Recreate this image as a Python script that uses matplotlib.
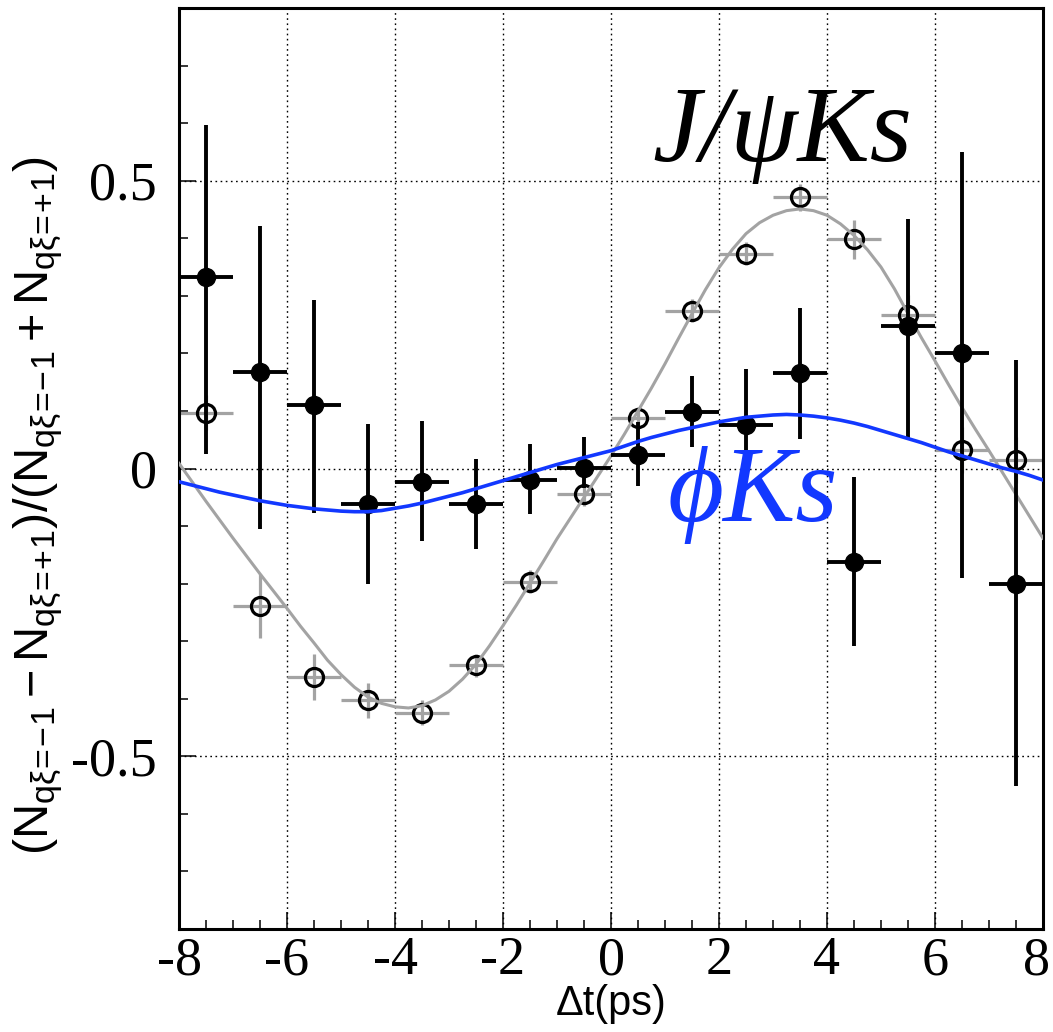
import numpy as np
import matplotlib
matplotlib.use("Agg")
import matplotlib.pyplot as plt
from matplotlib.ticker import MultipleLocator

plt.rcParams['font.family'] = ['Liberation Serif', 'DejaVu Serif']
plt.rcParams['axes.unicode_minus'] = False
plt.rcParams['mathtext.fontset'] = 'custom'
plt.rcParams['mathtext.rm'] = 'Liberation Sans'
plt.rcParams['mathtext.it'] = 'Liberation Sans'
plt.rcParams['mathtext.bf'] = 'Liberation Sans:bold'

# bin centres (dt in ps)
bins = [-7.5, -6.5, -5.5, -4.5, -3.5, -2.5, -1.5, -0.5,
        0.5, 1.5, 2.5, 3.5, 4.5, 5.5, 6.5, 7.5]

# phi Ks (filled points): value, lower end, upper end of error bar
phi_val = [0.333, 0.167, 0.111, -0.061, -0.023, -0.061, -0.020, 0.001,
           0.024, 0.099, 0.076, 0.166, -0.163, 0.248, 0.201, -0.201]
phi_lo = [0.026, -0.105, -0.077, -0.200, -0.126, -0.139, -0.079, -0.033,
          -0.030, 0.037, -0.020, 0.051, -0.308, 0.053, -0.191, -0.551]
phi_hi = [0.597, 0.422, 0.293, 0.078, 0.082, 0.016, 0.042, 0.054,
          0.080, 0.161, 0.173, 0.279, -0.014, 0.433, 0.550, 0.189]

# J/psi Ks (open points)
psi_val = [0.097, -0.239, -0.363, -0.403, -0.424, -0.342, -0.197, -0.045,
           0.087, 0.274, 0.373, 0.471, 0.398, 0.266, 0.033, 0.015]
psi_err = [0.03, 0.055, 0.04, 0.031, 0.022, 0.02, 0.02, 0.02,
           0.02, 0.02, 0.02, 0.024, 0.034, 0.035, 0.04, 0.04]

# fitted curves (every 0.25 ps)
curve_t = [-8.0, -7.75, -7.5, -7.25, -7.0, -6.75, -6.5, -6.25, -6.0, -5.75,
           -5.5, -5.25, -5.0, -4.75, -4.5, -4.25, -4.0, -3.75, -3.5, -3.25,
           -3.0, -2.75, -2.5, -2.25, -2.0, -1.75, -1.5, -1.25, -1.0, -0.75,
           -0.5, -0.25, 0.0, 0.25, 0.5, 0.75, 1.0, 1.25, 1.5, 1.75, 2.0,
           2.25, 2.5, 2.75, 3.0, 3.25, 3.5, 3.75, 4.0, 4.25, 4.5, 4.75, 5.0,
           5.25, 5.5, 5.75, 6.0, 6.25, 6.5, 6.75, 7.0, 7.25, 7.5, 7.75, 8.0]
psi_fit = [0.009, -0.024, -0.057, -0.089, -0.121, -0.152, -0.183, -0.213,
           -0.243, -0.274, -0.303, -0.333, -0.358, -0.380, -0.397, -0.408,
           -0.414, -0.416, -0.412, -0.402, -0.387, -0.366, -0.340, -0.308,
           -0.273, -0.237, -0.199, -0.161, -0.122, -0.086, -0.050, -0.014,
           0.022, 0.060, 0.100, 0.140, 0.182, 0.226, 0.269, 0.311, 0.349,
           0.381, 0.408, 0.427, 0.440, 0.448, 0.451, 0.448, 0.440, 0.425,
           0.405, 0.380, 0.350, 0.312, 0.269, 0.227, 0.187, 0.146, 0.106,
           0.068, 0.031, -0.007, -0.045, -0.083, -0.121]
phi_fit = [-0.023, -0.029, -0.035, -0.041, -0.046, -0.051, -0.056, -0.060,
           -0.064, -0.067, -0.070, -0.072, -0.074, -0.075, -0.075, -0.073,
           -0.069, -0.065, -0.060, -0.054, -0.048, -0.042, -0.035, -0.028,
           -0.021, -0.014, -0.007, 0.000, 0.007, 0.013, 0.019, 0.025, 0.031,
           0.039, 0.047, 0.054, 0.060, 0.066, 0.071, 0.076, 0.081, 0.085,
           0.089, 0.091, 0.093, 0.094, 0.093, 0.091, 0.088, 0.084, 0.079,
           0.073, 0.066, 0.059, 0.052, 0.045, 0.037, 0.029, 0.022, 0.015,
           0.008, 0.001, -0.005, -0.012, -0.020]

# tick labels (trailing space nudges the last one inside the picture)
xticks = [-8, -6, -4, -2, 0, 2, 4, 6, 8]
xtick_labels = ['-8', '-6', '-4', '-2', '0', '2', '4', '6', '8 ']
yticks = [-0.5, 0, 0.5]
ytick_labels = ['-0.5', '0', '0.5']

blue = '#1238ff'
gray = '#a3a3a3'

fig = plt.figure(figsize=(10.53, 10.32), dpi=100)
ax = fig.add_axes([0.170, 0.0998, 0.8205, 0.8924])

ax.errorbar(bins, psi_val, xerr=0.5, yerr=psi_err, fmt='none',
            ecolor=gray, elinewidth=2.3, capsize=0, zorder=2)
ax.plot(bins, psi_val, 'o', ms=13, mfc='none', mec='black', mew=2.3, zorder=3)
ax.plot(curve_t, psi_fit, color=gray, lw=2.2, zorder=4)

phi_err = [np.subtract(phi_val, phi_lo), np.subtract(phi_hi, phi_val)]
ax.errorbar(bins, phi_val, xerr=0.5, yerr=phi_err, fmt='o', ms=13,
            color='black', ecolor='black', elinewidth=2.8, capsize=0, zorder=5)
ax.plot(curve_t, phi_fit, color=blue, lw=2.6, zorder=6)

ax.text(0.76, 0.535, 'J/ψKs', fontsize=78, style='italic',
        color='black', zorder=7)
ax.text(1.04, -0.091, '\u03d5Ks', fontsize=78, style='italic',
        color=blue, zorder=7)

ax.set_xlim(-8, 8)
ax.set_ylim(-0.8, 0.8)
ax.set_xticks(xticks)
ax.set_xticklabels(xtick_labels)
ax.xaxis.set_minor_locator(MultipleLocator(0.5))
ax.set_yticks(yticks)
ax.set_yticklabels(ytick_labels)
ax.yaxis.set_minor_locator(MultipleLocator(0.1))
ax.tick_params(which='both', direction='in', top=False, right=False,
               labelsize=39, width=1.1)
ax.tick_params(which='major', length=12, pad=5)
ax.tick_params(which='minor', length=6.5)
ax.tick_params(axis='y', which='major', pad=16)
for s in ax.spines.values():
    s.set_linewidth(2.2)
ax.grid(True, which='major', color='black', linestyle=(0, (1.2, 2.5)), lw=1.0)

ax.set_xlabel('Δt(ps)', family='Liberation Sans', fontsize=30, labelpad=-2)
sub_m = r'{q\xi\!=\!\!-\!1}'
sub_p = r'{q\xi\!=\!\!+\!1}'
ax.set_ylabel(r'$(N_%s-N_%s)/(N_%s+N_%s)$' % (sub_m, sub_p, sub_m, sub_p),
              fontsize=35)
ax.yaxis.set_label_coords(-0.132, 0.46)

fig.savefig('out.png', dpi=100)
